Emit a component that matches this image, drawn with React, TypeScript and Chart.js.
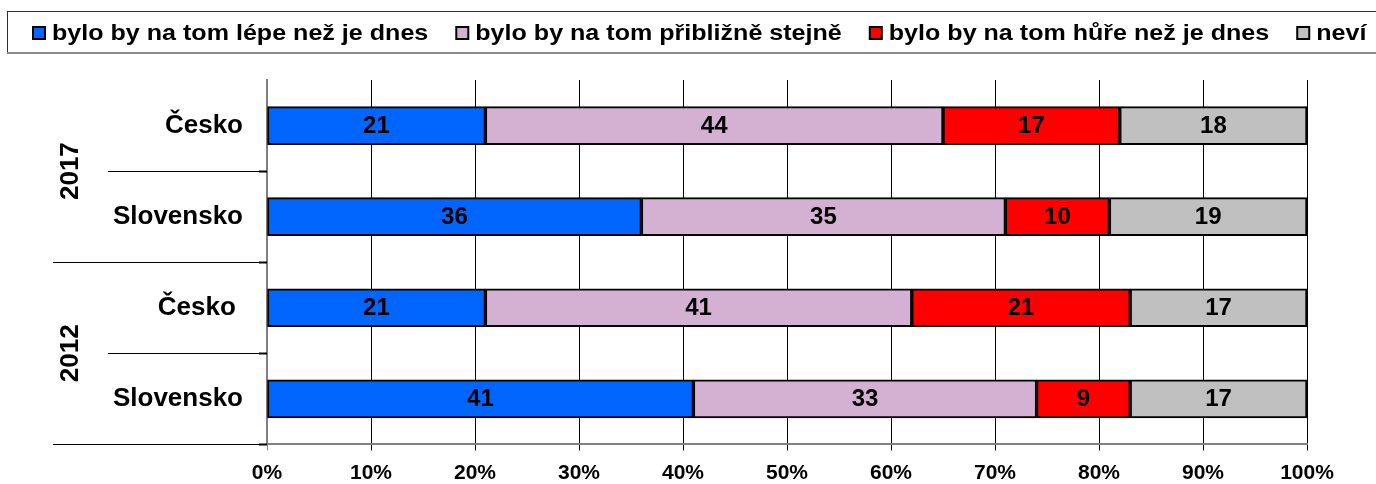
import React, { useEffect, useRef } from "react";
import { Chart, registerables } from "chart.js";

Chart.register(...registerables);

const categories = ["Česko", "Slovensko", "Česko ", "Slovensko"];
const years = ["2017", "2012"];
const seriesNames = [
  "bylo by na tom lépe než je dnes",
  "bylo by na tom přibližně stejně",
  "bylo by na tom hůře než je dnes",
  "neví",
];
const better = [21, 36, 21, 41];
const same = [44, 35, 41, 33];
const worse = [17, 10, 21, 9];
const dontKnow = [18, 19, 17, 17];
const xTickValues = [0, 10, 20, 30, 40, 50, 60, 70, 80, 90, 100];
const colors = ["#0066FF", "#D4B0D2", "#FF0000", "#C0C0C0"];

const FONT = "'Liberation Sans', Arial, sans-serif";

const W = 1376;
const H = 484;
const LEGEND_STRETCH = 1.14;

const extrasPlugin = {
  id: "extras",
  afterDatasetsDraw(chart: any) {
    const { ctx } = chart;
    ctx.save();
    ctx.font = `bold 24px ${FONT}`;
    ctx.fillStyle = "#000";
    ctx.textAlign = "center";
    ctx.textBaseline = "middle";
    chart.data.datasets.forEach((ds: any, di: number) => {
      const meta = chart.getDatasetMeta(di);
      meta.data.forEach((el: any, i: number) => {
        const v = ds.data[i];
        const cx = (el.x + el.base) / 2;
        ctx.fillText(String(v), cx, el.y + 1);
      });
    });
    ctx.restore();
  },
  afterDraw(chart: any) {
    const { ctx, chartArea } = chart;
    const yScale = chart.scales.y;
    const n = categories.length;
    ctx.save();
    // separators between categories / groups
    for (let i = 0; i < n; i++) {
      const p0 = yScale.getPixelForValue(i);
      const p1 =
        i + 1 < n
          ? yScale.getPixelForValue(i + 1)
          : p0 + (p0 - yScale.getPixelForValue(i - 1));
      const yy = Math.round((p0 + p1) / 2) + 0.5;
      const x0 = (i + 1) % 2 === 0 ? 53 : 108;
      ctx.strokeStyle = "#000";
      ctx.lineWidth = 1;
      ctx.beginPath();
      ctx.moveTo(x0, yy);
      ctx.lineTo(chartArea.left, yy);
      ctx.stroke();
      ctx.lineWidth = 2;
      ctx.beginPath();
      ctx.moveTo(chartArea.left - 8, yy);
      ctx.lineTo(chartArea.left, yy);
      ctx.stroke();
    }
    // year labels
    ctx.font = `bold 26px ${FONT}`;
    ctx.fillStyle = "#000";
    ctx.textAlign = "center";
    ctx.textBaseline = "middle";
    years.forEach((yr, g) => {
      const a = yScale.getPixelForValue(2 * g);
      const b = yScale.getPixelForValue(2 * g + 1);
      const cy = (a + b) / 2;
      ctx.save();
      ctx.translate(71, cy);
      ctx.rotate(-Math.PI / 2);
      ctx.fillText(yr, 0, 0);
      ctx.restore();
    });
    // legend frame
    ctx.strokeStyle = "#303030";
    ctx.lineWidth = 1;
    ctx.strokeRect(7.5, 11.5, 1380, 41);
    ctx.strokeStyle = "#8c8c8c";
    ctx.lineWidth = 2;
    ctx.beginPath();
    ctx.moveTo(7, 53);
    ctx.lineTo(1376, 53);
    ctx.stroke();
    // legend items
    ctx.font = `bold 22px ${FONT}`;
    ctx.textAlign = "left";
    ctx.textBaseline = "middle";
    let x = 33;
    seriesNames.forEach((name, i) => {
      ctx.fillStyle = colors[i];
      ctx.fillRect(x, 27, 12, 12);
      ctx.strokeStyle = "#000";
      ctx.lineWidth = 2;
      ctx.strokeRect(x, 27, 12, 12);
      ctx.fillStyle = "#000";
      const tx = x + 19;
      ctx.save();
      ctx.translate(tx, 34);
      ctx.scale(LEGEND_STRETCH, 1);
      ctx.fillText(name, 0, 0);
      ctx.restore();
      x = tx + ctx.measureText(name).width * LEGEND_STRETCH + 28;
    });
    ctx.restore();
  },
};

export default function App() {
  const ref = useRef<HTMLCanvasElement | null>(null);

  useEffect(() => {
    if (!ref.current) return;
    const series = [better, same, worse, dontKnow];
    const chart = new Chart(ref.current, {
      type: "bar",
      data: {
        labels: categories,
        datasets: series.map((d, i) => ({
          label: seriesNames[i],
          data: d,
          backgroundColor: colors[i],
          borderColor: "#000",
          borderWidth: 2,
          borderSkipped: false,
          barThickness: 38,
        })),
      },
      options: {
        indexAxis: "y",
        responsive: false,
        animation: false,
        devicePixelRatio: 1,
        layout: { padding: { top: 80, right: 69, left: 0, bottom: 0 } },
        plugins: {
          legend: { display: false },
          tooltip: { enabled: false },
        },
        scales: {
          x: {
            stacked: true,
            min: 0,
            max: 100,
            afterFit: (scale: any) => {
              scale.height = 35;
            },
            afterBuildTicks: (scale: any) => {
              scale.ticks = xTickValues.map((v) => ({ value: v }));
            },
            ticks: {
              callback: (v: any) => `${v}%`,
              color: "#000",
              font: { family: FONT, size: 21, weight: "bold" },
              padding: 10,
              maxRotation: 0,
              autoSkip: false,
            },
            grid: {
              color: (c: any) => (c.index === 0 ? "#808080" : "#000"),
              lineWidth: 1,
              drawTicks: true,
              tickLength: 6,
            },
            border: { display: true, color: "#808080", width: 2 },
          },
          y: {
            stacked: true,
            afterFit: (scale: any) => {
              scale.width = 267;
            },
            ticks: {
              color: "#000",
              font: { family: FONT, size: 26, weight: "bold" },
              padding: 24,
            },
            grid: { display: true, drawOnChartArea: false, drawTicks: false },
            border: { display: true, color: "#808080", width: 2 },
          },
        },
      },
      plugins: [extrasPlugin],
    });
    return () => chart.destroy();
  }, []);

  return (
    <div
      style={{
        position: "absolute",
        left: 0,
        top: 0,
        width: W,
        height: H,
        background: "#fff",
      }}
    >
      <canvas
        ref={ref}
        width={W}
        height={H}
        style={{ display: "block", width: W, height: H }}
      />
    </div>
  );
}
